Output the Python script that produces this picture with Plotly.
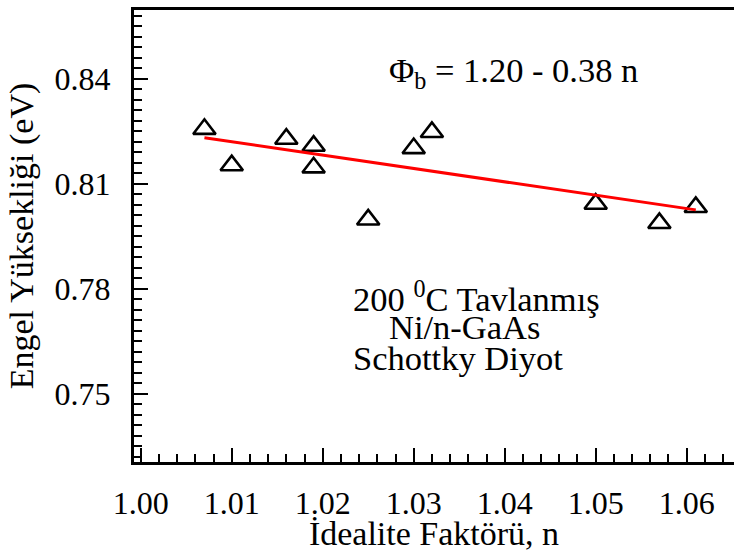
import plotly.graph_objects as go

# Data
ideality_n = [1.007, 1.010, 1.016, 1.019, 1.019, 1.025, 1.030, 1.032, 1.050, 1.057, 1.061]
barrier_eV = [0.8257, 0.8153, 0.8229, 0.8209, 0.8147, 0.7998, 0.8202, 0.8248, 0.8043, 0.7988, 0.8034]

fit_n = [1.007, 1.061]
fit_eV = [0.8232, 0.8026]

x_ticks = [1.00, 1.01, 1.02, 1.03, 1.04, 1.05, 1.06]
y_ticks = [0.75, 0.78, 0.81, 0.84]

FONT = "Liberation Serif"

fig = go.Figure()
fig.add_trace(go.Scatter(
    x=ideality_n, y=barrier_eV, mode="markers",
    marker=dict(symbol="triangle-up-open", size=19.5, color="black",
                line=dict(color="black", width=2.6)),
    showlegend=False,
))
fig.add_trace(go.Scatter(
    x=fit_n, y=fit_eV, mode="lines",
    line=dict(color="#ff0000", width=3),
    showlegend=False,
))

fig.update_layout(
    width=734, height=552,
    margin=dict(l=134, r=0, t=10, b=90),
    paper_bgcolor="white", plot_bgcolor="white",
    font=dict(family=FONT, size=32, color="black"),
    xaxis=dict(
        range=[0.99926, 1.0652],
        tickmode="array", tickvals=x_ticks, ticktext=[f"{v:.2f}" for v in x_ticks],
        tickfont=dict(family=FONT, size=32),
        ticks="inside", ticklen=14, tickwidth=2, tickcolor="black",
        minor=dict(ticks="inside", ticklen=8, tickwidth=2, tickcolor="black",
                   dtick=0.002, tick0=1.0),
        showline=True, linewidth=3, linecolor="black", mirror=True,
        showgrid=False, zeroline=False,
        ticklabelstandoff=11,
        title=dict(text="İdealite Faktörü, n", font=dict(family=FONT, size=34), standoff=6),
    ),
    yaxis=dict(
        range=[0.73057, 0.85971],
        tickmode="array", tickvals=y_ticks, ticktext=[f"{v:.2f}" for v in y_ticks],
        tickfont=dict(family=FONT, size=32),
        ticks="inside", ticklen=14, tickwidth=2, tickcolor="black",
        minor=dict(ticks="inside", ticklen=8, tickwidth=2, tickcolor="black",
                   dtick=0.003, tick0=0.75),
        showline=True, linewidth=3, linecolor="black", mirror=False,
        showgrid=False, zeroline=False,
        ticklabelstandoff=14,
        title=dict(text="Engel Yüksekliği (eV)", font=dict(family=FONT, size=34), standoff=11),
    ),
)

ann_font = dict(family=FONT, size=34.5, color="black")
fig.add_annotation(
    text="Φ<sub>b</sub> = 1.20 - 0.38 n", xref="paper", yref="paper",
    x=(387 - 134) / 600, y=1 - (73 - 10) / 452, xanchor="left", yanchor="middle",
    showarrow=False, font=ann_font,
)
fig.add_annotation(
    text="200 <sup>0</sup>C Tavlanmış", xref="paper", yref="paper",
    x=(351 - 134) / 600, y=1 - (296 - 10) / 452, xanchor="left", yanchor="middle",
    showarrow=False, font=ann_font,
)
fig.add_annotation(
    text="Ni/n-GaAs", xref="paper", yref="paper",
    x=(387 - 134) / 600, y=1 - (327 - 10) / 452, xanchor="left", yanchor="middle",
    showarrow=False, font=ann_font,
)
fig.add_annotation(
    text="Schottky Diyot", xref="paper", yref="paper",
    x=(351 - 134) / 600, y=1 - (358 - 10) / 452, xanchor="left", yanchor="middle",
    showarrow=False, font=ann_font,
)

fig.write_html("out.html")
